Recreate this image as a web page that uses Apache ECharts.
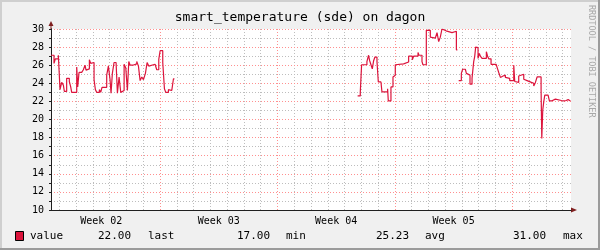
<!DOCTYPE html>
<html><head><meta charset="utf-8">
<script src="https://cdn.jsdelivr.net/npm/echarts@6/dist/echarts.min.js"></script>
<style>html,body{margin:0;padding:0;background:#F0F0F0}#c{width:600px;height:250px}</style>
</head><body><div id="c"></div>
<script>
// ---- data (time in hours from the left edge of the graph) ----
const chartTitle = 'smart_temperature (sde) on dagon';
const seriesName = 'value';
const timesA = [0,4.3,6.2,10.5,12.9,15.3,17.7,19.1,22.4,26.2,28.2,29.6,36.8,38.2,40.1,43.9,46.3,48.7,50.1,52.0,54.9,56.8,58.2,61.6,63.5,65.4,69.2,71.1,73.0,79.7,82.1,84.5,85.9,87.8,90.2,93.1,95.0,97.4,99.8,101.7,104.6,107.0,109.3,111.3,113.2,117.0,122.7,125.1,127.5,129.9,132.3,135.1,137.5,139.9,141.8,148.9,151.3,154.2,156.1,159.9,162.3,164.2,168.0,170.4,172.8,175.2,176.6];
const valuesA = [27.1,26.2,26.7,27.1,23.3,24.1,23.8,23.1,24.55,24.2,23.6,23.0,25.8,23.6,25.2,25.25,25.5,26.0,25.45,25.6,26.6,26.2,26.3,24.4,23.3,23.0,23.3,23.0,23.55,24.9,25.9,24.4,22.9,25.1,26.3,26.1,22.9,24.7,23.0,23.2,26.1,25.7,23.2,26.4,26.0,26.15,26.4,25.9,24.3,24.7,24.4,25.1,26.3,25.9,26.1,25.9,25.5,26.65,27.6,26.3,23.4,23.0,23.3,23.2,23.1,24.5,24.5];
const timesB = [438.7,442.5,444.4,452.0,454.4,455.9,457.8,459.7,461.6,463.5,466.4,468.3,472.1,473.5,481.6,482.6,486.4,489.3,490.7,492.6,495.0,504.5,511.7,517.0,518.9,525.1,526.5,530.8,532.2,537.0,542.7,545.1,549.9,552.3,554.7,557.0,559.4,561.8,565.2,567.5,573.8,580.0,581.4];
const valuesB = [22.6,23.0,26.05,26.4,27.1,26.5,26.05,25.6,26.5,26.9,26.4,24.15,24.0,23.05,23.4,22.05,23.6,24.7,24.9,26.05,26.15,26.35,27.0,26.6,27.0,27.4,27.1,26.4,26.05,29.85,29.1,29.0,29.2,29.6,28.6,29.1,30.0,29.8,30.0,29.6,29.75,27.7,27.7];
const timesC = [583.3,587.1,589.0,592.8,594.3,596.7,599.5,602.4,604.8,606.2,607.6,610.0,611.0,612.9,614.3,616.7,622.9,624.8,626.3,629.6,636.8,638.7,640.6,643.0,644.4,646.8,650.1,651.6,656.3,662.1,663.5,665.4,669.2,671.6,676.4,678.8,681.2,687.4,690.7,693.1,695.5,701.2,702.2,703.6,705.0,706.5,711.2,713.1,716.0,721.7,724.1,730.3,732.2,734.1,737.0,739.9,743.2];
const valuesC = [24.3,25.1,25.55,25.45,25.1,24.9,23.9,24.55,26.4,26.95,28.0,27.95,26.75,27.3,27.0,26.75,27.5,26.95,26.7,26.1,26.0,25.65,25.2,24.65,24.8,24.9,24.65,24.55,24.3,26.0,24.2,24.1,24.8,25.0,24.45,24.3,24.1,24.0,23.7,24.1,24.7,23.3,17.9,21.05,21.95,22.7,22.6,22.05,22.25,22.2,22.1,22.2,22.05,22.1,22.2,22.05,22.05];
const timeMax = 744;
const weekLabels = ['Week 02','Week 03','Week 04','Week 05'];
const weekLabelHours = [72,240,408,576];
const weekLineHours = [156,324,492,660];
const dayLineHours = [];
for (let d = 0; d < 31; d++) dayLineHours.push(d * 24 + 12);
const legendStats = [['22.00','last'],['17.00','min'],['25.23','avg'],['31.00','max']];
const watermark = 'RRDTOOL / TOBI OETIKER';

// ---- build ----
function pairs(ts, vs) { return ts.map((t, i) => [t, vs[i]]); }
const lineData = [].concat(pairs(timesA, valuesA), [[timesA[timesA.length-1] + 1, null]],
  pairs(timesB, valuesB), [[timesB[timesB.length-1] + 0.5, null]], pairs(timesC, valuesC));

const MONO = 'DejaVu Sans Mono';
const RED = '#DC143C';
const MGRID = '#FF8F8F';
const GRID = '#BDBDBD';
const AXIS = '#1F1F1F';
const ARROW = '#7F1F1F';

const legendX = [98, 148, 237, 286, 376, 425, 513, 563];
const graphics = [
  {type:'rect', shape:{x:0,y:0,width:600,height:2}, style:{fill:'#CFCFCF'}, z:100},
  {type:'rect', shape:{x:0,y:0,width:2,height:250}, style:{fill:'#CFCFCF'}, z:100},
  {type:'rect', shape:{x:0,y:248,width:600,height:2}, style:{fill:'#9B9B9B'}, z:100},
  {type:'rect', shape:{x:598,y:0,width:2,height:250}, style:{fill:'#9B9B9B'}, z:100},
  {type:'rect', shape:{x:15.5,y:231.5,width:8,height:9}, style:{fill:RED, stroke:'#000', lineWidth:1}, z:100},
  {type:'text', x:30, y:236.5, style:{text:seriesName, font:'11px "DejaVu Sans Mono"', fill:'#000', textVerticalAlign:'middle'}, z:100},
  {type:'text', x:591, y:5, rotation:-Math.PI/2, style:{text:watermark, font:'8.5px "DejaVu Sans Mono"', fill:'#A8A8A8', textVerticalAlign:'middle'}, z:100}
];
legendStats.forEach((s, i) => {
  graphics.push({type:'text', x:legendX[2*i], y:236.5, style:{text:s[0], font:'11px "DejaVu Sans Mono"', fill:'#000', textVerticalAlign:'middle'}, z:100});
  graphics.push({type:'text', x:legendX[2*i+1], y:236.5, style:{text:s[1], font:'11px "DejaVu Sans Mono"', fill:'#000', textVerticalAlign:'middle'}, z:100});
});

const option = {
  animation: false,
  backgroundColor: '#F0F0F0',
  title: {text: chartTitle, left: 'center', top: 11, padding: 0,
    textStyle: {fontFamily: MONO, fontSize: 13, fontWeight: 'normal', color: '#000'}},
  grid: {left: 51, top: 29, width: 520, height: 181, show: true, backgroundColor: '#FFFFFF', borderWidth: 0},
  xAxis: [
    {type:'value', min:0, max:timeMax, position:'bottom', z:4,
      axisLine:{show:true, lineStyle:{color:AXIS, width:1}},
      axisTick:{show:false},
      axisLabel:{customValues: weekLabelHours, formatter: v => weekLabels[weekLabelHours.indexOf(v)],
        fontFamily: MONO, fontSize: 10, color:'#000', margin: 6},
      splitLine:{show:false}},
    {type:'value', min:0, max:timeMax, position:'bottom', z:1,
      axisLine:{show:true, symbol:['none','triangle'], symbolSize:[5,6], symbolOffset:[0,3], lineStyle:{color:ARROW}},
      axisTick:{show:false, customValues: dayLineHours},
      axisLabel:{show:false},
      splitLine:{show:true, lineStyle:{color:GRID, type:[1,2], width:1}}},
    {type:'value', min:0, max:timeMax, position:'bottom', z:2,
      axisLine:{show:false},
      axisTick:{show:false, customValues: weekLineHours},
      axisLabel:{show:false},
      splitLine:{show:true, lineStyle:{color:MGRID, type:[1,2], width:1}}}
  ],
  yAxis: [
    {type:'value', min:10, max:30, interval:2, position:'left', z:3,
      axisLine:{show:true, lineStyle:{color:AXIS}},
      axisTick:{show:true, length:2, lineStyle:{color:AXIS}},
      minorTick:{show:true, splitNumber:2, length:2, lineStyle:{color:AXIS}},
      axisLabel:{fontFamily: MONO, fontSize: 10, color:'#000', margin: 7},
      splitLine:{show:true, lineStyle:{color:MGRID, type:[1,2], width:1}},
      minorSplitLine:{show:true, lineStyle:{color:GRID, type:[1,2], width:1}}},
    {type:'value', min:10, max:30, interval:2, position:'left', z:1,
      axisLine:{show:true, symbol:['none','path://M2.5,0 L5,5 L3,5 L3,8 L2,8 L2,5 L0,5 Z'], symbolSize:[5,8], symbolOffset:[0,4], lineStyle:{color:ARROW}},
      axisTick:{show:false}, axisLabel:{show:false}, splitLine:{show:false}}
  ],
  series: [{
    name: seriesName, type: 'line', step: 'end', data: lineData, z: 10,
    showSymbol: false, connectNulls: false, clip: true,
    lineStyle: {color: RED, width: 1.2}, itemStyle: {color: RED}
  }],
  graphic: graphics
};
const chart = echarts.init(document.getElementById('c'), null, {renderer: 'canvas'});
chart.setOption(option);
</script></body></html>
